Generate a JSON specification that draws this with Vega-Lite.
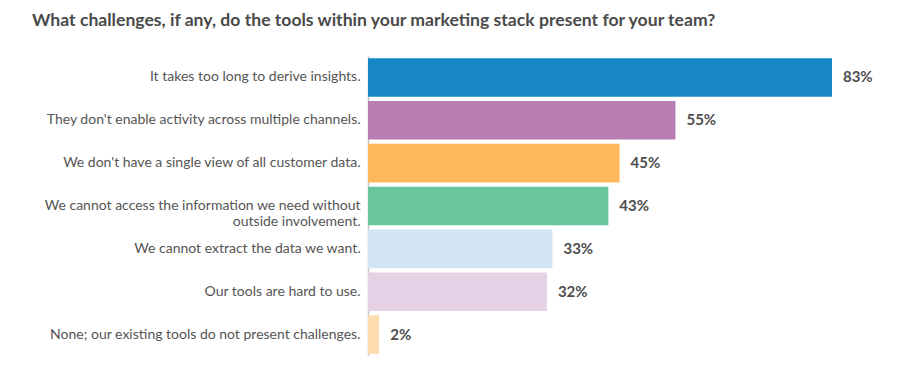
{
  "$schema": "https://vega.github.io/schema/vega-lite/v6.json",
  "autosize": "none",
  "width": 559,
  "height": 300,
  "padding": {"left": 368, "top": 56, "right": 0, "bottom": 0},
  "background": "white",
  "config": {"view": {"stroke": null}, "font": "Lato"},
  "title": {
    "text": "What challenges, if any, do the tools within your marketing stack present for your team?",
    "anchor": "start",
    "frame": "group",
    "dx": -336,
    "offset": 26,
    "font": "Lato",
    "fontSize": 17.6,
    "fontWeight": "bold",
    "color": "#4a4a4a"
  },
  "data": {
    "values": [
      {"label": "It takes too long to derive insights.", "value": 0.83, "color": "#1787c5"},
      {"label": "They don't enable activity across multiple channels.", "value": 0.55, "color": "#b87db2"},
      {"label": "We don't have a single view of all customer data.", "value": 0.45, "color": "#fdb95e"},
      {"label": "We cannot access the information we need without outside involvement.", "value": 0.43, "color": "#6ac69a"},
      {"label": "We cannot extract the data we want.", "value": 0.33, "color": "#d3e4f4"},
      {"label": "Our tools are hard to use.", "value": 0.32, "color": "#e4d1e6"},
      {"label": "None; our existing tools do not present challenges.", "value": 0.02, "color": "#fddcaf"}
    ]
  },
  "encoding": {
    "y": {
      "field": "label",
      "type": "nominal",
      "sort": null,
      "scale": {"paddingInner": 0.1, "paddingOuter": 0.05},
      "axis": {
        "title": null,
        "ticks": false,
        "domainColor": "#c8c8c8",
        "domainWidth": 1.5,
        "labelPadding": 8,
        "labelFont": "Lato",
        "labelFontSize": 14,
        "labelColor": "#555555",
        "labelLimit": 400,
        "labelLineHeight": 15.5,
        "labelExpr": "datum.value == 'We cannot access the information we need without outside involvement.' ? ['We cannot access the information we need without', 'outside involvement.'] : datum.value"
      }
    },
    "x": {
      "field": "value",
      "type": "quantitative",
      "scale": {"domain": [0, 1]},
      "axis": null
    }
  },
  "layer": [
    {
      "mark": {"type": "bar"},
      "encoding": {
        "color": {"field": "color", "type": "nominal", "scale": null}
      }
    },
    {
      "mark": {"type": "text", "align": "left", "baseline": "middle", "dx": 11, "font": "Lato", "fontSize": 15, "fontWeight": "bold", "color": "#4d4d4d"},
      "encoding": {
        "text": {"field": "value", "type": "quantitative", "format": ".0%"}
      }
    }
  ]
}
